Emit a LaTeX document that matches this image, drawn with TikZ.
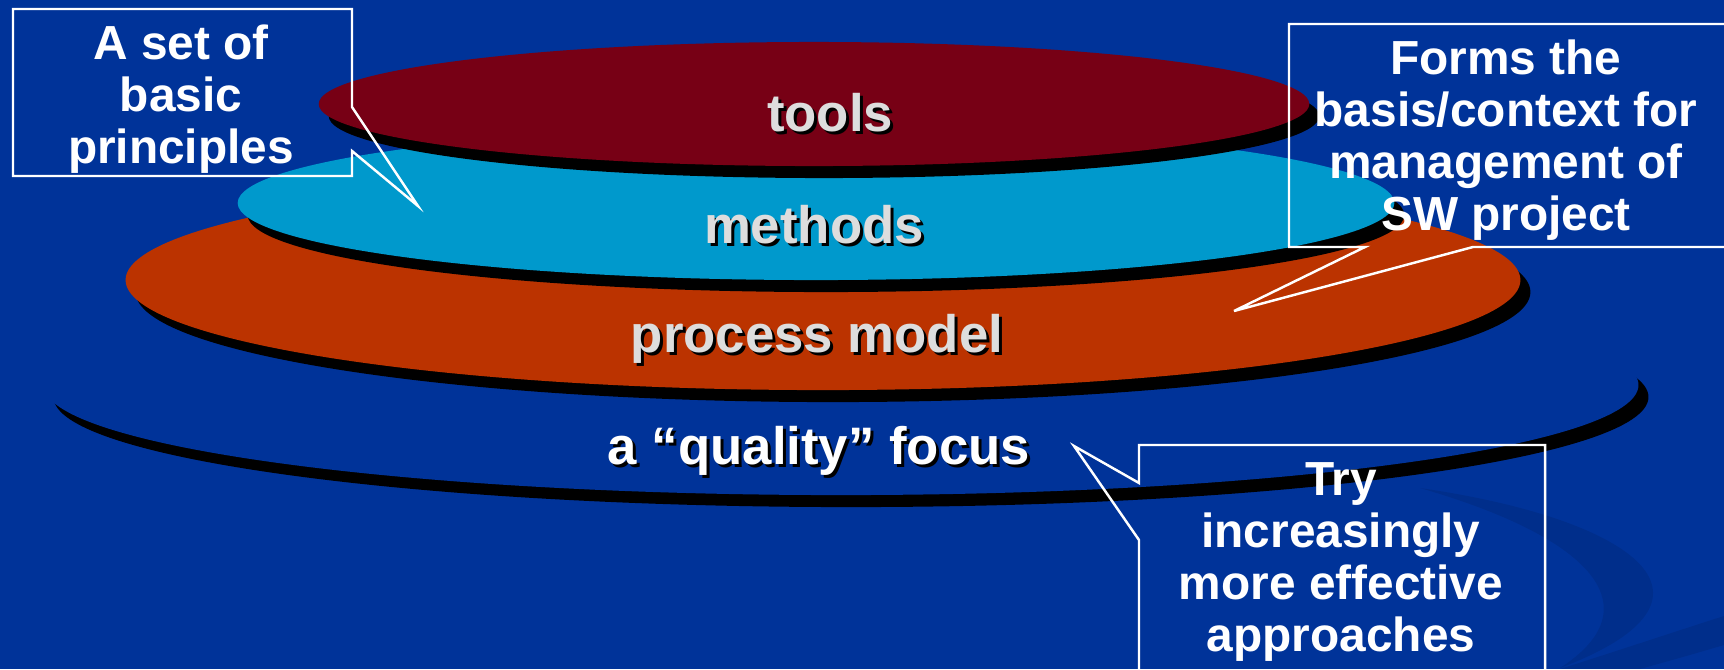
\documentclass[tikz,border=0pt]{standalone}
\usepackage{fontspec}
\setmainfont{Liberation Sans}
\definecolor{tausta}{HTML}{003399}
\definecolor{viini}{HTML}{770015}
\definecolor{syaani}{HTML}{0099CC}
\definecolor{oranssi}{HTML}{BB3300}
\definecolor{harmaa}{HTML}{DDDDDD}
\begin{document}
\begin{tikzpicture}[x=0.01cm,y=-0.01cm,
  otsikko/.style={font=\fontsize{15}{18}\selectfont\bfseries,text=harmaa},
  puhe/.style={font=\fontsize{13.6}{14.8}\selectfont\bfseries,text=white,align=center},
  kehys/.style={draw=white,line width=0.7pt,line join=miter},
  pyorre/.style={fill=black,opacity=0.09}]
\newcommand\kiekko[4]{
\fill[black,shift={(10,12)}] (#1) ellipse [x radius=#2, y radius=#3];
\fill[#4] (#1) ellipse [x radius=#2, y radius=#3];
}
\useasboundingbox (0,0) rectangle (1724,669);
\clip (0,0) rectangle (1724,669);
\fill[tausta] (0,0) rectangle (1724,669);
\fill[pyorre] (1420,488) .. controls (1640,520) and (1740,600) .. (1560,668) .. controls (1650,610) and (1600,540) .. (1420,488) -- cycle;
\fill[pyorre] (1560,669) .. controls (1620,650) and (1680,630) .. (1724,616) -- (1724,645) .. controls (1690,655) .. (1640,669) -- cycle;
\kiekko{841,385}{7.97cm}{1.10cm}{tausta}
\kiekko{823,280}{6.97cm}{1.10cm}{oranssi}
\kiekko{816,203}{5.78cm}{0.77cm}{syaani}
\kiekko{814,104}{4.95cm}{0.62cm}{viini}
\node[otsikko,text=black,shift={(3,3)}] at (830,113) {tools};
\node[otsikko] (tools) at (830,113) {tools};
\node[otsikko,text=black,shift={(3,3)}] at (814,225) {methods};
\node[otsikko] (methods) at (814,225) {methods};
\node[otsikko,text=black,shift={(3,3)}] at (817,339) {process model};
\node[otsikko] (process) at (817,339) {process model};
\node[otsikko,text=black,shift={(3,3)}] at (819,451) {a “quality” focus};
\node[otsikko,text=white] (quality) at (819,451) {a “quality” focus};
\coordinate (karki1) at (418,206);
\coordinate (karki2) at (1234,311);
\coordinate (karki3) at (1074,446);
\draw[kehys] (13,9) -- (352,9) -- (352,107) -- (karki1) -- (352,151) -- (352,176) -- (13,176) -- cycle;
\draw[kehys] (1289,24) -- (1740,24) -- (1740,247) -- (1473,247) -- (karki2) -- (1365,247) -- (1289,247) -- cycle;
\draw[kehys] (1139,445) -- (1545,445) -- (1545,690) -- (1139,690) -- (1139,540) -- (karki3) -- (1139,483) -- cycle;
\node[puhe] (periaatteet) at (181,99) {A set of\\basic\\principles};
\node[puhe] (perusta) at (1506,140) {Forms the\\basis/context for\\management of\\SW project};
\node[puhe] (lahestymistavat) at (1341,562) {Try\\increasingly\\more effective\\approaches};
\end{tikzpicture}
\end{document}
